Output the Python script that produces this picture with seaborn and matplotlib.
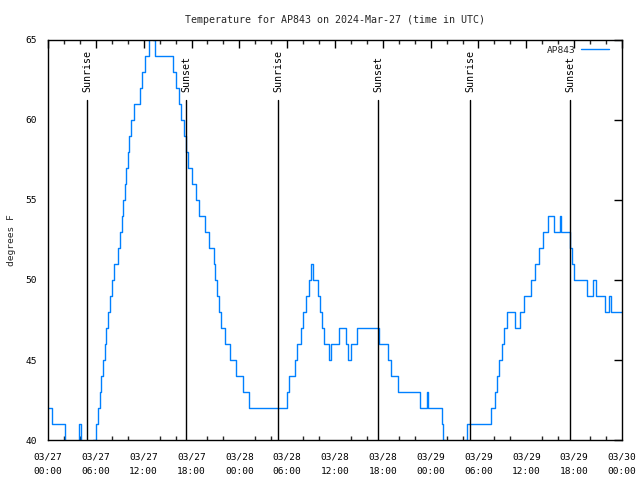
import matplotlib
matplotlib.use("Agg")
import matplotlib.pyplot as plt
import seaborn as sns
import pandas as pd
from matplotlib.ticker import MultipleLocator

# hours since 2024-03-27 00:00 UTC and temperature (deg F) at each level change
hours = [0.00, 0.54, 2.09, 3.89, 4.18, 5.68, 5.96, 6.27, 6.46, 6.69, 6.84, 7.09, 7.28,
         7.50, 7.75, 8.00, 8.34, 8.72, 9.01, 9.22, 9.41, 9.61, 9.81, 10.04, 10.22,
         10.47, 10.85, 11.60, 11.85, 12.17, 12.61, 13.17, 13.42, 15.68, 16.06, 16.37,
         16.68, 17.00, 17.25, 17.62, 18.06, 18.57, 18.94, 19.69, 20.20, 20.76, 21.01,
         21.26, 21.45, 21.70, 22.14, 22.83, 23.64, 24.40, 25.21, 29.98, 30.29, 30.92,
         31.23, 31.74, 31.99, 32.30, 32.68, 32.99, 33.18, 33.81, 34.12, 34.37, 34.68,
         35.25, 35.44, 36.56, 37.44, 37.57, 37.95, 38.70, 41.48, 42.59, 43.03, 43.84,
         46.72, 47.48, 47.66, 49.36, 49.55, 49.74, 52.31, 52.62, 55.57, 56.01, 56.26,
         56.51, 57.01, 57.26, 57.58, 58.52, 59.21, 59.71, 60.59, 61.09, 61.59, 62.03,
         62.72, 63.47, 64.22, 64.41, 65.54, 65.73, 65.98, 67.55, 68.30, 68.74, 69.93,
         70.43, 70.62, 72.00]
temps = [42, 41, 39, 41, 39, 40, 41, 42, 43, 44, 45, 46, 47,
         48, 49, 50, 51, 52, 53, 54, 55, 56, 57, 58, 59,
         60, 61, 62, 63, 64, 66, 65, 64, 63, 62, 61,
         60, 59, 58, 57, 56, 55, 54, 53, 52, 51, 50,
         49, 48, 47, 46, 45, 44, 43, 42, 43, 44, 45,
         46, 47, 48, 49, 50, 51, 50, 49, 48, 47, 46,
         45, 46, 47, 46, 45, 46, 47, 46, 45, 44, 43,
         42, 43, 42, 41, 40, 39, 40, 41, 42, 43, 44,
         45, 46, 47, 48, 47, 48, 49, 50, 51, 52, 53,
         54, 53, 54, 53, 52, 51, 50, 49, 50, 49, 48,
         49, 48, 48]

sun_hours = [4.89, 17.31, 28.85, 41.39, 52.93, 65.48]
sun_labels = ["Sunrise", "Sunset", "Sunrise", "Sunset", "Sunrise", "Sunset"]

xtick_hours = [0, 6, 12, 18, 24, 30, 36, 42, 48, 54, 60, 66, 72]
xtick_labels = ["03/27\n00:00", "03/27\n06:00", "03/27\n12:00", "03/27\n18:00",
                "03/28\n00:00", "03/28\n06:00", "03/28\n12:00", "03/28\n18:00",
                "03/29\n00:00", "03/29\n06:00", "03/29\n12:00", "03/29\n18:00",
                "03/30\n00:00"]
yticks = [40, 45, 50, 55, 60, 65]

sns.set_theme(style="white")
plt.rcParams['font.family'] = ['DejaVu Sans Mono', 'DejaVu Sans']

fig = plt.figure(figsize=(6.4, 4.8), dpi=100)
ax = fig.add_axes([48/640, 1-440/480, (622-48)/640, 400/480])

df = pd.DataFrame({"hours": hours, "temp": temps})
sns.lineplot(data=df, x="hours", y="temp", ax=ax, color="#0080ff", lw=1.0,
             drawstyle="steps-post", estimator=None, sort=False, label="AP843")

for h, lab in zip(sun_hours, sun_labels):
    ax.axvline(h, ymin=0, ymax=0.85, color="black", lw=1.0)
    ax.text(h, 0.87, lab, transform=ax.get_xaxis_transform(), rotation=90,
            ha="center", va="bottom", fontsize=7.2, color="black")

ax.set_xlim(0, 72)
ax.set_ylim(40, 65)
ax.set_xticks(xtick_hours)
ax.set_xticklabels(xtick_labels, fontsize=6.8, linespacing=1.75)
ax.xaxis.set_minor_locator(MultipleLocator(2))
ax.set_yticks(yticks)
ax.set_yticklabels([str(v) for v in yticks], fontsize=6.8)
ax.tick_params(axis="both", which="major", direction="in", length=6, width=1,
               top=True, right=True, colors="black")
ax.tick_params(axis="x", which="major", pad=9)
ax.tick_params(axis="y", which="major", pad=8)
ax.tick_params(axis="x", which="minor", direction="in", length=3, width=1,
               top=True, bottom=True)
for s in ax.spines.values():
    s.set_color("black")
    s.set_linewidth(1.0)

ax.set_xlabel("")
ax.set_ylabel("degrees F", fontsize=6.8, labelpad=7)
ax.set_title("Temperature for AP843 on 2024-Mar-27 (time in UTC)", fontsize=7.2, pad=12)

leg = ax.legend(loc="upper right", bbox_to_anchor=(1 - 9/574, 0.995), frameon=False,
                markerfirst=False, fontsize=6.8, handlelength=3.0, borderaxespad=0.0,
                handletextpad=0.6)

fig.savefig("out.png", dpi=100)
